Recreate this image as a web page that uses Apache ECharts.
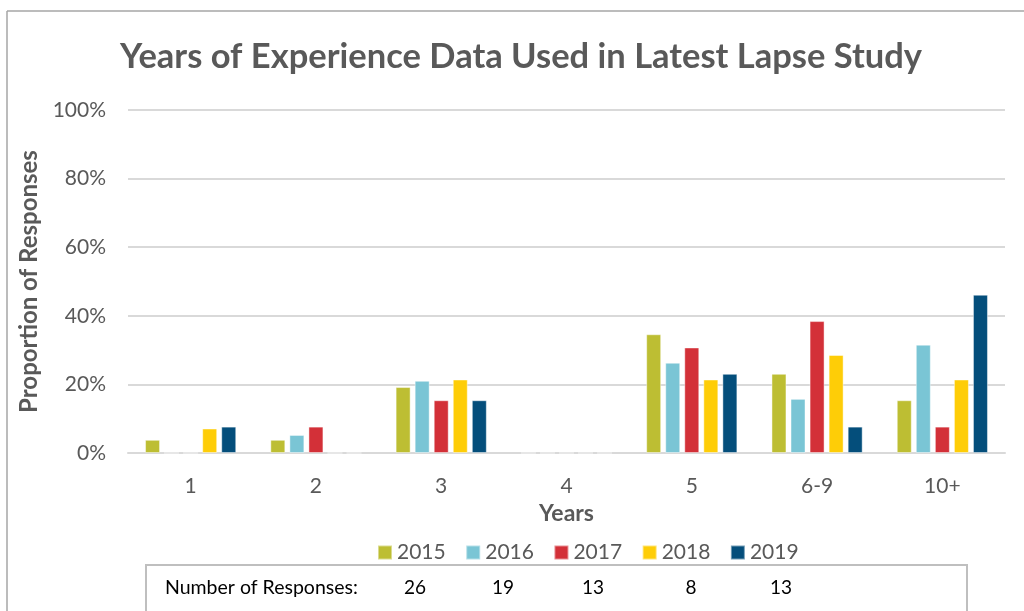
<!DOCTYPE html>
<html>
<head>
<meta charset="utf-8">
<style>
  html, body { margin: 0; padding: 0; background: #ffffff; }
  #chart { width: 1024px; height: 611px; }
</style>
<script src="https://cdn.jsdelivr.net/npm/echarts@6/dist/echarts.min.js"></script>
</head>
<body>
<div id="chart"></div>
<script>
// Years of experience buckets
const categories = ['1', '2', '3', '4', '5', '6-9', '10+'];

// Share of responses per survey year
const series2015 = [0.0385, 0.0385, 0.1923, 0, 0.3462, 0.2308, 0.1538];
const series2016 = [0, 0.0526, 0.2105, 0, 0.2632, 0.1579, 0.3158];
const series2017 = [0, 0.0769, 0.1538, 0, 0.3077, 0.3846, 0.0769];
const series2018 = [0.0714, 0, 0.2143, 0, 0.2143, 0.2857, 0.2143];
const series2019 = [0.0769, 0, 0.1538, 0, 0.2308, 0.0769, 0.4615];

const years = ['2015', '2016', '2017', '2018', '2019'];
const responseCounts = [26, 19, 13, 8, 13];
const yTicks = [0, 0.2, 0.4, 0.6, 0.8, 1.0];

const colors = ['#BDBE33', '#7AC5D5', '#D33038', '#FECD07', '#044E7B'];
const values = [series2015, series2016, series2017, series2018, series2019];

const chart = echarts.init(document.getElementById('chart'), null, { renderer: 'canvas' });

const textGray = '#595959';
const font = 'Lato, "Open Sans", sans-serif';

// Table of response counts under the legend
const countX = [415, 503, 593, 691, 781];
const tableTexts = responseCounts.map((n, i) => ({
  type: 'text',
  x: countX[i],
  y: 588,
  style: { text: String(n), fill: '#000000', font: '19px ' + font, textAlign: 'center', textVerticalAlign: 'middle' }
}));

const option = {
  animation: false,
  textStyle: { fontFamily: font },
  color: colors,
  grid: { left: 128, right: 19, top: 110, bottom: 158, containLabel: false },
  legend: {
    data: years,
    left: 377,
    top: 542,
    padding: 0,
    itemWidth: 14,
    itemHeight: 14,
    itemGap: 19.5,
    icon: 'rect',
    textStyle: { color: textGray, fontSize: 21, fontFamily: font }
  },
  xAxis: {
    type: 'category',
    data: categories,
    name: 'Years',
    nameLocation: 'middle',
    nameGap: 49,
    nameTextStyle: { color: textGray, fontSize: 23, fontWeight: 'bold', fontFamily: font },
    axisLine: { show: true, lineStyle: { color: '#d9d9d9', width: 2 } },
    axisTick: { show: false },
    axisLabel: { color: textGray, fontSize: 21, margin: 23, fontFamily: font }
  },
  yAxis: {
    type: 'value',
    min: yTicks[0],
    max: yTicks[yTicks.length - 1],
    interval: 0.2,
    name: 'Proportion of Responses',
    nameLocation: 'middle',
    nameGap: 83,
    nameRotate: 90,
    nameTextStyle: { color: textGray, fontSize: 24, fontWeight: 'bold', fontFamily: font },
    axisLine: { show: false },
    axisTick: { show: false },
    splitLine: { lineStyle: { color: '#d9d9d9', width: 2 } },
    axisLabel: {
      color: textGray, fontSize: 21, margin: 22, fontFamily: font,
      formatter: v => Math.round(v * 100) + '%'
    }
  },
  series: years.map((y, i) => ({
    name: y,
    type: 'bar',
    data: values[i],
    barWidth: 15,
    barGap: '27%',
    itemStyle: { color: colors[i], borderColor: 'rgba(255,255,255,0.45)', borderWidth: 1 }
  })),
  graphic: [
    // outer chart frame
    { type: 'line', shape: { x1: 7, y1: 11, x2: 1030, y2: 11 }, style: { stroke: '#a6a6a6', lineWidth: 1.5 } },
    { type: 'line', shape: { x1: 7, y1: 11, x2: 7, y2: 620 }, style: { stroke: '#a6a6a6', lineWidth: 1.5 } },
    // chart title
    {
      type: 'text', x: 521, y: 57,
      style: { text: 'Years of Experience Data Used in Latest Lapse Study', fill: textGray, font: 'bold 34.5px ' + font, textAlign: 'center', textVerticalAlign: 'middle' }
    },
    // response count box
    { type: 'rect', shape: { x: 146, y: 565, width: 821, height: 50 }, style: { fill: 'none', stroke: '#bfbfbf', lineWidth: 2 } },
    {
      type: 'text', x: 165, y: 588,
      style: { text: 'Number of Responses:', fill: '#000000', font: '19.5px ' + font, textAlign: 'left', textVerticalAlign: 'middle' }
    }
  ].concat(tableTexts)
};

chart.setOption(option);
</script>
</body>
</html>
